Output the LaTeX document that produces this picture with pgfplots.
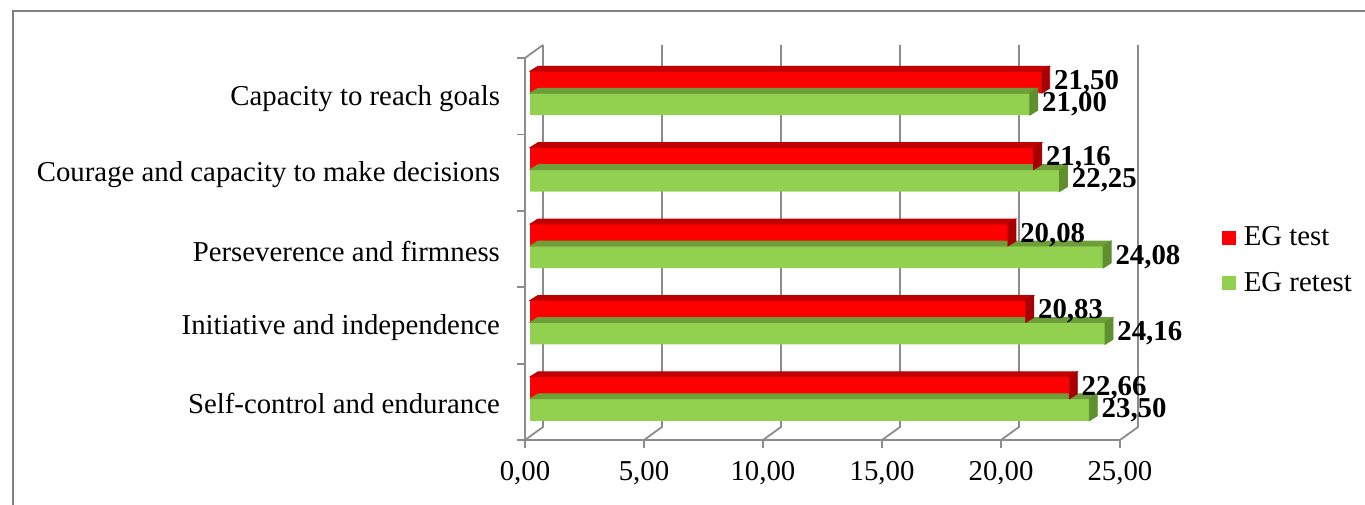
\documentclass[border=0pt]{standalone}
\usepackage{pgfplots}
\usepackage{pgfplotstable}
\usepackage{fontspec}
\setmainfont{Liberation Serif}
\pgfplotsset{compat=1.18}

\definecolor{framegray}{RGB}{128,128,128}
\definecolor{gridgray}{RGB}{140,140,140}
\definecolor{testred}{RGB}{255,0,0}
\definecolor{testredtop}{RGB}{192,0,0}
\definecolor{testredside}{RGB}{168,0,0}
\definecolor{retestgreen}{RGB}{146,208,80}
\definecolor{retestgreentop}{RGB}{110,158,58}
\definecolor{retestgreenside}{RGB}{95,143,47}

% a plot mark that draws nothing (the scatter code draws the bar depth)
\pgfdeclareplotmark{void}{}

\pgfplotstableread{
cat test retest
1 22.66 23.50
2 20.83 24.16
3 20.08 24.08
4 21.16 22.25
5 21.50 21.00
}\scores

\newcommand\chartfont{\fontsize{14.4}{17}\selectfont}

% depth faces of a 3D bar, drawn at the bar's end:
% #1 top edge, #2 bottom edge (relative to the category centre), #3 top colour, #4 end colour
\newcommand\bardepth[4]{%
  \pgfmathsetlengthmacro\barlen{\bval*11.9pt}%
  \fill[#3] (-\barlen,#1) -- (0pt,#1) -- (4pt,#1+2.5pt) -- (4pt-\barlen,#1+2.5pt) -- cycle;
  \fill[#4] (0pt,#2) -- (0pt,#1) -- (4pt,#1+2.5pt) -- (4pt,#2+2.5pt) -- cycle;
}

\begin{document}
\begin{tikzpicture}
\path[use as bounding box] (0,0) rectangle (682.5pt,252pt);
\draw[framegray, line width=1.2pt] (6.5pt,-2pt) -- (6.5pt,246.5pt) -- (685pt,246.5pt);

% front plane: axis lines, ticks, labels, floor and back wall
\begin{axis}[
  at={(262.5pt,32pt)}, anchor=south west,
  scale only axis, width=297.5pt, height=191pt,
  xmin=0, xmax=25, ymin=0.5, ymax=5.5,
  axis lines=left,
  axis line style={-, gridgray, line width=0.9pt},
  tick align=outside, major tick length=4pt,
  xtick={0,5,...,25},
  xtick style={gridgray, line width=0.9pt},
  ytick={1,...,5},
  ytick style={draw=none},
  yticklabels={Self-control and endurance, Initiative and independence, Perseverence and firmness, Courage and capacity to make decisions, Capacity to reach goals},
  ticklabel style={font=\chartfont},
  yticklabel style={xshift=-5pt, yshift=-1pt},
  xticklabel style={yshift=-3pt, /pgf/number format/.cd, fixed, fixed zerofill, precision=2, use comma, assume math mode=true},
  clip=false,
]
\pgfplotsinvokeforeach{0,5,...,25}{
  \draw[gridgray, line width=0.9pt] (axis cs:#1,0.5) -- ++(9pt,6.5pt) -- ++(0pt,191pt);
}
\pgfplotsinvokeforeach{0.5,1.5,...,5.5}{
  \draw[gridgray, line width=0.9pt] (axis cs:0,#1) -- ++(-4pt,0pt);
}
\draw[gridgray, line width=0.9pt] (axis cs:0,5.5) -- ++(9pt,6.5pt);
\end{axis}

% bars
\begin{axis}[
  at={(265pt,32pt)}, anchor=south west,
  scale only axis, width=297.5pt, height=191pt,
  xmin=0, xmax=25, ymin=0.5, ymax=5.5,
  hide axis, clip=false,
  bar width=11pt,
  point meta=x,
  legend style={draw=none, fill=none, font=\chartfont, at={(1.152,0.47)}, anchor=west,
    row sep=7.5pt, legend cell align=left},
  reverse legend,
  legend image code/.code={\fill[#1, draw=none] (0pt,-3.5pt) rectangle (7pt,3.5pt);
    \path (0pt,0pt) -- (9pt,0pt);},
  bar labels/.style={
    nodes near coords={\pgfmathprintnumber[fixed,fixed zerofill,precision=2,use comma,assume math mode=true]{\pgfplotspointmeta}},
    nodes near coords style={font=\chartfont\bfseries, anchor=west, inner sep=0pt, xshift=6pt, yshift=#1, text=black},
  },
]
\addplot[scatter, only marks, mark=void, forget plot,
  visualization depends on={\thisrow{retest} \as \bval},
  scatter/@pre marker code/.code={\bardepth{1.5pt}{-9.5pt}{retestgreentop}{retestgreenside}},
  scatter/@post marker code/.code={}]
  table[x=retest, y=cat]{\scores};
\addplot[xbar, bar shift=-4pt, fill=retestgreen, draw=none, bar labels=-4pt]
  table[x=retest, y=cat]{\scores};
\addlegendentry{EG retest}

\addplot[scatter, only marks, mark=void, forget plot,
  visualization depends on={\thisrow{test} \as \bval},
  scatter/@pre marker code/.code={\bardepth{12.5pt}{1.5pt}{testredtop}{testredside}},
  scatter/@post marker code/.code={}]
  table[x=test, y=cat]{\scores};
\addplot[xbar, bar shift=7pt, fill=testred, draw=none, bar labels=7pt]
  table[x=test, y=cat]{\scores};
\addlegendentry{EG test}
\end{axis}
\end{tikzpicture}
\end{document}
